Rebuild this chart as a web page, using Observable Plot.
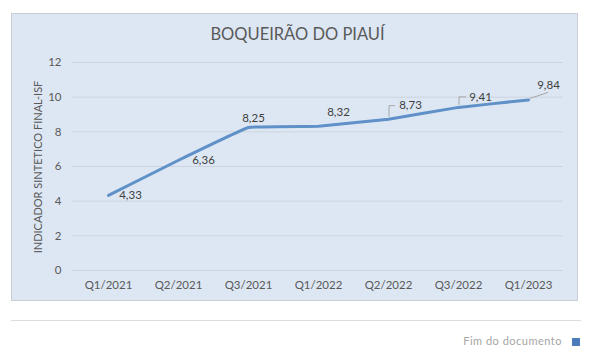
<!DOCTYPE html>
<html><head><meta charset="utf-8">
<script src="https://cdn.jsdelivr.net/npm/d3@7"></script>
<script src="https://cdn.jsdelivr.net/npm/@observablehq/plot@0.6"></script>
<style>
body{margin:0;background:#fff;font-family:Lato,"Open Sans",sans-serif;}
#wrap{position:relative;width:595px;height:359px;overflow:hidden;}
#box{position:absolute;left:11px;top:13px;width:565px;height:286px;background:#dde7f3;border:1px solid #c9ced5;}
#title{position:absolute;left:0;top:24px;width:595px;text-align:center;font-size:16.5px;color:#595959;}
#ylab{position:absolute;left:37px;top:167px;transform:translate(-50%,-50%) rotate(-90deg);white-space:nowrap;font-size:11px;color:#595959;}
#sep{position:absolute;left:11px;top:320px;width:570px;height:1px;background:#dcdcdc;}
#foot{position:absolute;right:33px;top:334px;font-size:11px;color:#a6a6a6;letter-spacing:0.5px;}
#sq{position:absolute;left:572px;top:338px;width:8px;height:8px;background:#4a7ebb;}
#plot{position:absolute;left:0;top:0;}
</style></head>
<body>
<div id="wrap">
  <div id="box"></div>
  <div id="plot"></div>
  <div id="title">BOQUEIRÃO DO PIAUÍ</div>
  <div id="ylab">INDICADOR SINTETICO FINAL-ISF</div>
  <div id="sep"></div>
  <div id="foot">Fim do documento</div>
  <div id="sq"></div>
</div>
<script>
const quarters = ["Q1/2021","Q2/2021","Q3/2021","Q1/2022","Q2/2022","Q3/2022","Q1/2023"];
const isf = [4.33, 6.36, 8.25, 8.32, 8.73, 9.41, 9.84];
const valueLabels = ["4,33","6,36","8,25","8,32","8,73","9,41","9,84"];
const yTicks = [0, 2, 4, 6, 8, 10, 12];

const rows = quarters.map((q, i) => ({q, v: isf[i], label: valueLabels[i]}));

// label placement (pixel offsets from the point), kept apart from the data
const labelOffsets = [[22,0],[25,0],[5,-9],[20,-14],[22,-14],[22,-10],[20,-15]];
// leader line paths relative to point (for labels pulled away)
const leaderPaths = {4: "m1,-2 v-11 h6", 5: "m1,-2 v-8 h7", 6: "m2,-1 l18,-6"};

const labelMarks = rows.map((d, i) => Plot.text([d], {
  x: "q", y: "v", text: "label",
  dx: labelOffsets[i][0], dy: labelOffsets[i][1],
  textAnchor: "middle", lineAnchor: "middle",
  fill: "#404040", fontSize: 11.5
}));

function leaders(index, scales) {
  const g = d3.create("svg:g").attr("fill", "none").attr("stroke", "#a6a6a6").attr("stroke-width", 1);
  Object.entries(leaderPaths).forEach(([i, p]) => {
    const d = rows[+i];
    const px = scales.x(d.q), py = scales.y(d.v);
    g.append("path").attr("d", `M${px},${py} ${p}`);
  });
  return g.node();
}

const chart = Plot.plot({
  width: 595, height: 359,
  marginLeft: 72, marginRight: 32, marginTop: 62, marginBottom: 89,
  style: {background: "transparent", fontFamily: "Lato, 'Open Sans', sans-serif", fontSize: "11.5px", color: "#595959"},
  x: {type: "point", domain: quarters, padding: 0.5, label: null},
  y: {domain: [0, 12], ticks: yTicks, label: null},
  marks: [
    Plot.ruleY(yTicks, {stroke: "#ccd4de", strokeWidth: 1}),
    Plot.axisY({ticks: yTicks, tickSize: 0, tickPadding: 11, label: null, fill: "#595959"}),
    Plot.axisX({tickSize: 0, tickPadding: 10, label: null, fill: "#595959"}),
    leaders,
    Plot.line(rows, {x: "q", y: "v", stroke: "#5f91c8", strokeWidth: 3, curve: d3.curveCardinal.tension(0.8)}),
    ...labelMarks
  ]
});
document.getElementById("plot").appendChild(chart);
</script>
</body></html>
